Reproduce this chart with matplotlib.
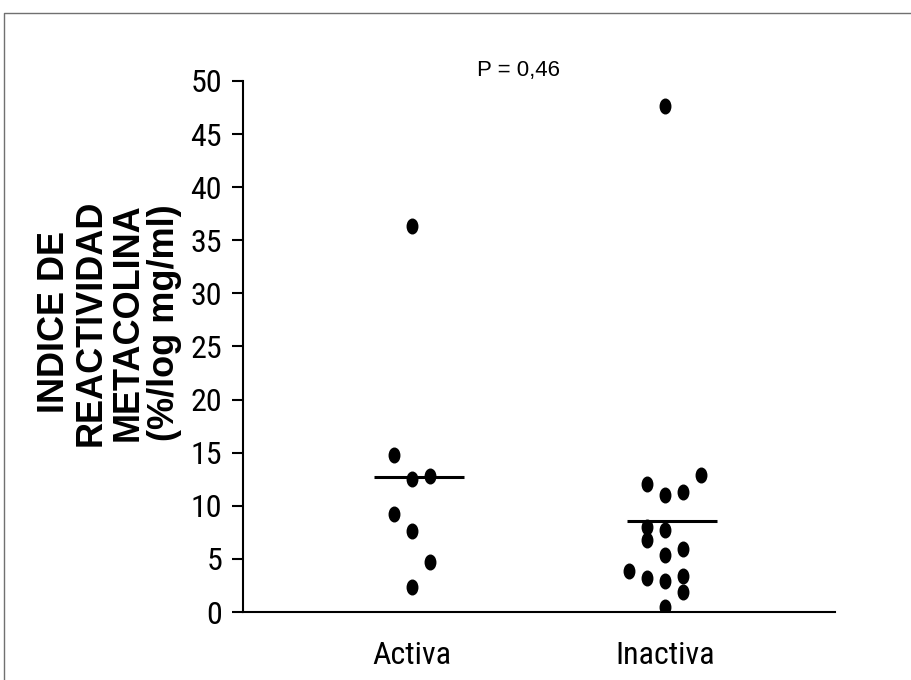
import matplotlib
matplotlib.use("Agg")
import matplotlib.pyplot as plt
from matplotlib.path import Path
from matplotlib.transforms import Affine2D
from matplotlib.lines import Line2D

groups = ["Activa", "Inactiva"]
activa = [36.3, 14.8, 12.5, 12.8, 9.2, 7.6, 4.7, 2.4]
inactiva = [47.6, 12.9, 12.05, 11.3, 11.0, 8.0, 7.7, 6.8, 5.9, 5.4, 3.9, 3.4, 3.2, 2.9, 1.9, 0.5]
means = [12.7, 8.6]
p_text = "P = 0,46"

# column slot for each point so the dots don't overlap
activa_slot = [0, -1, 0, 1, -1, 0, 1, 0]
inactiva_slot = [0, 2, -1, 1, 0, -1, 0, -1, 1, 0, -2, 1, -1, 0, 1, 0]

narrow = ["Liberation Sans Narrow", "Roboto Condensed", "DejaVu Sans Condensed",
          "Open Sans Condensed", "Liberation Sans", "DejaVu Sans"]
plain = ["Liberation Sans", "DejaVu Sans"]
plt.rcParams["font.family"] = narrow

# tall oval marker
oval = Path.unit_circle().transformed(Affine2D().scale(0.72, 1.0))

fig = plt.figure(figsize=(9.12, 6.8), dpi=100)
ax = fig.add_axes([0.2664, 0.1, 0.6492, 0.7809])

step = 0.071
for i, (vals, slots) in enumerate([(activa, activa_slot), (inactiva, inactiva_slot)]):
    xs = [i + s * step for s in slots]
    ax.plot(xs, vals, linestyle="none", marker=oval, markersize=10.5, color="black")
    ax.hlines(means[i], i - 0.15, i + 0.205, color="black", linewidth=2.2)

ax.set_xlim(-0.668, 1.672)
ax.set_ylim(0, 50)
ax.set_yticks(range(0, 51, 5))
ax.set_xticks([0, 1])
ax.set_xticklabels(groups)
ax.tick_params(axis="y", length=8, width=1.5, labelsize=23, pad=7)
ax.tick_params(axis="x", length=0, labelsize=23, pad=21)
for s in ["top", "right"]:
    ax.spines[s].set_visible(False)
for s in ["left", "bottom"]:
    ax.spines[s].set_linewidth(1.5)

ax.text(0.42, 51.0, p_text, ha="center", va="center", fontsize=16, family=plain)

fig.text(0.12, 0.526, "INDICE DE\nREACTIVIDAD\nMETACOLINA\n(%/log mg/ml)",
         rotation=90, ha="center", va="center", fontsize=26, fontweight="bold",
         linespacing=1.06, family=plain)

# thin frame round the figure
x0 = 4.5 / 912
y1 = 1 - 12.5 / 680
fig.add_artist(Line2D([x0, x0, 1.01], [-0.01, y1, y1], transform=fig.transFigure,
                      color="#707070", linewidth=1))

fig.savefig("out.png", dpi=100)
